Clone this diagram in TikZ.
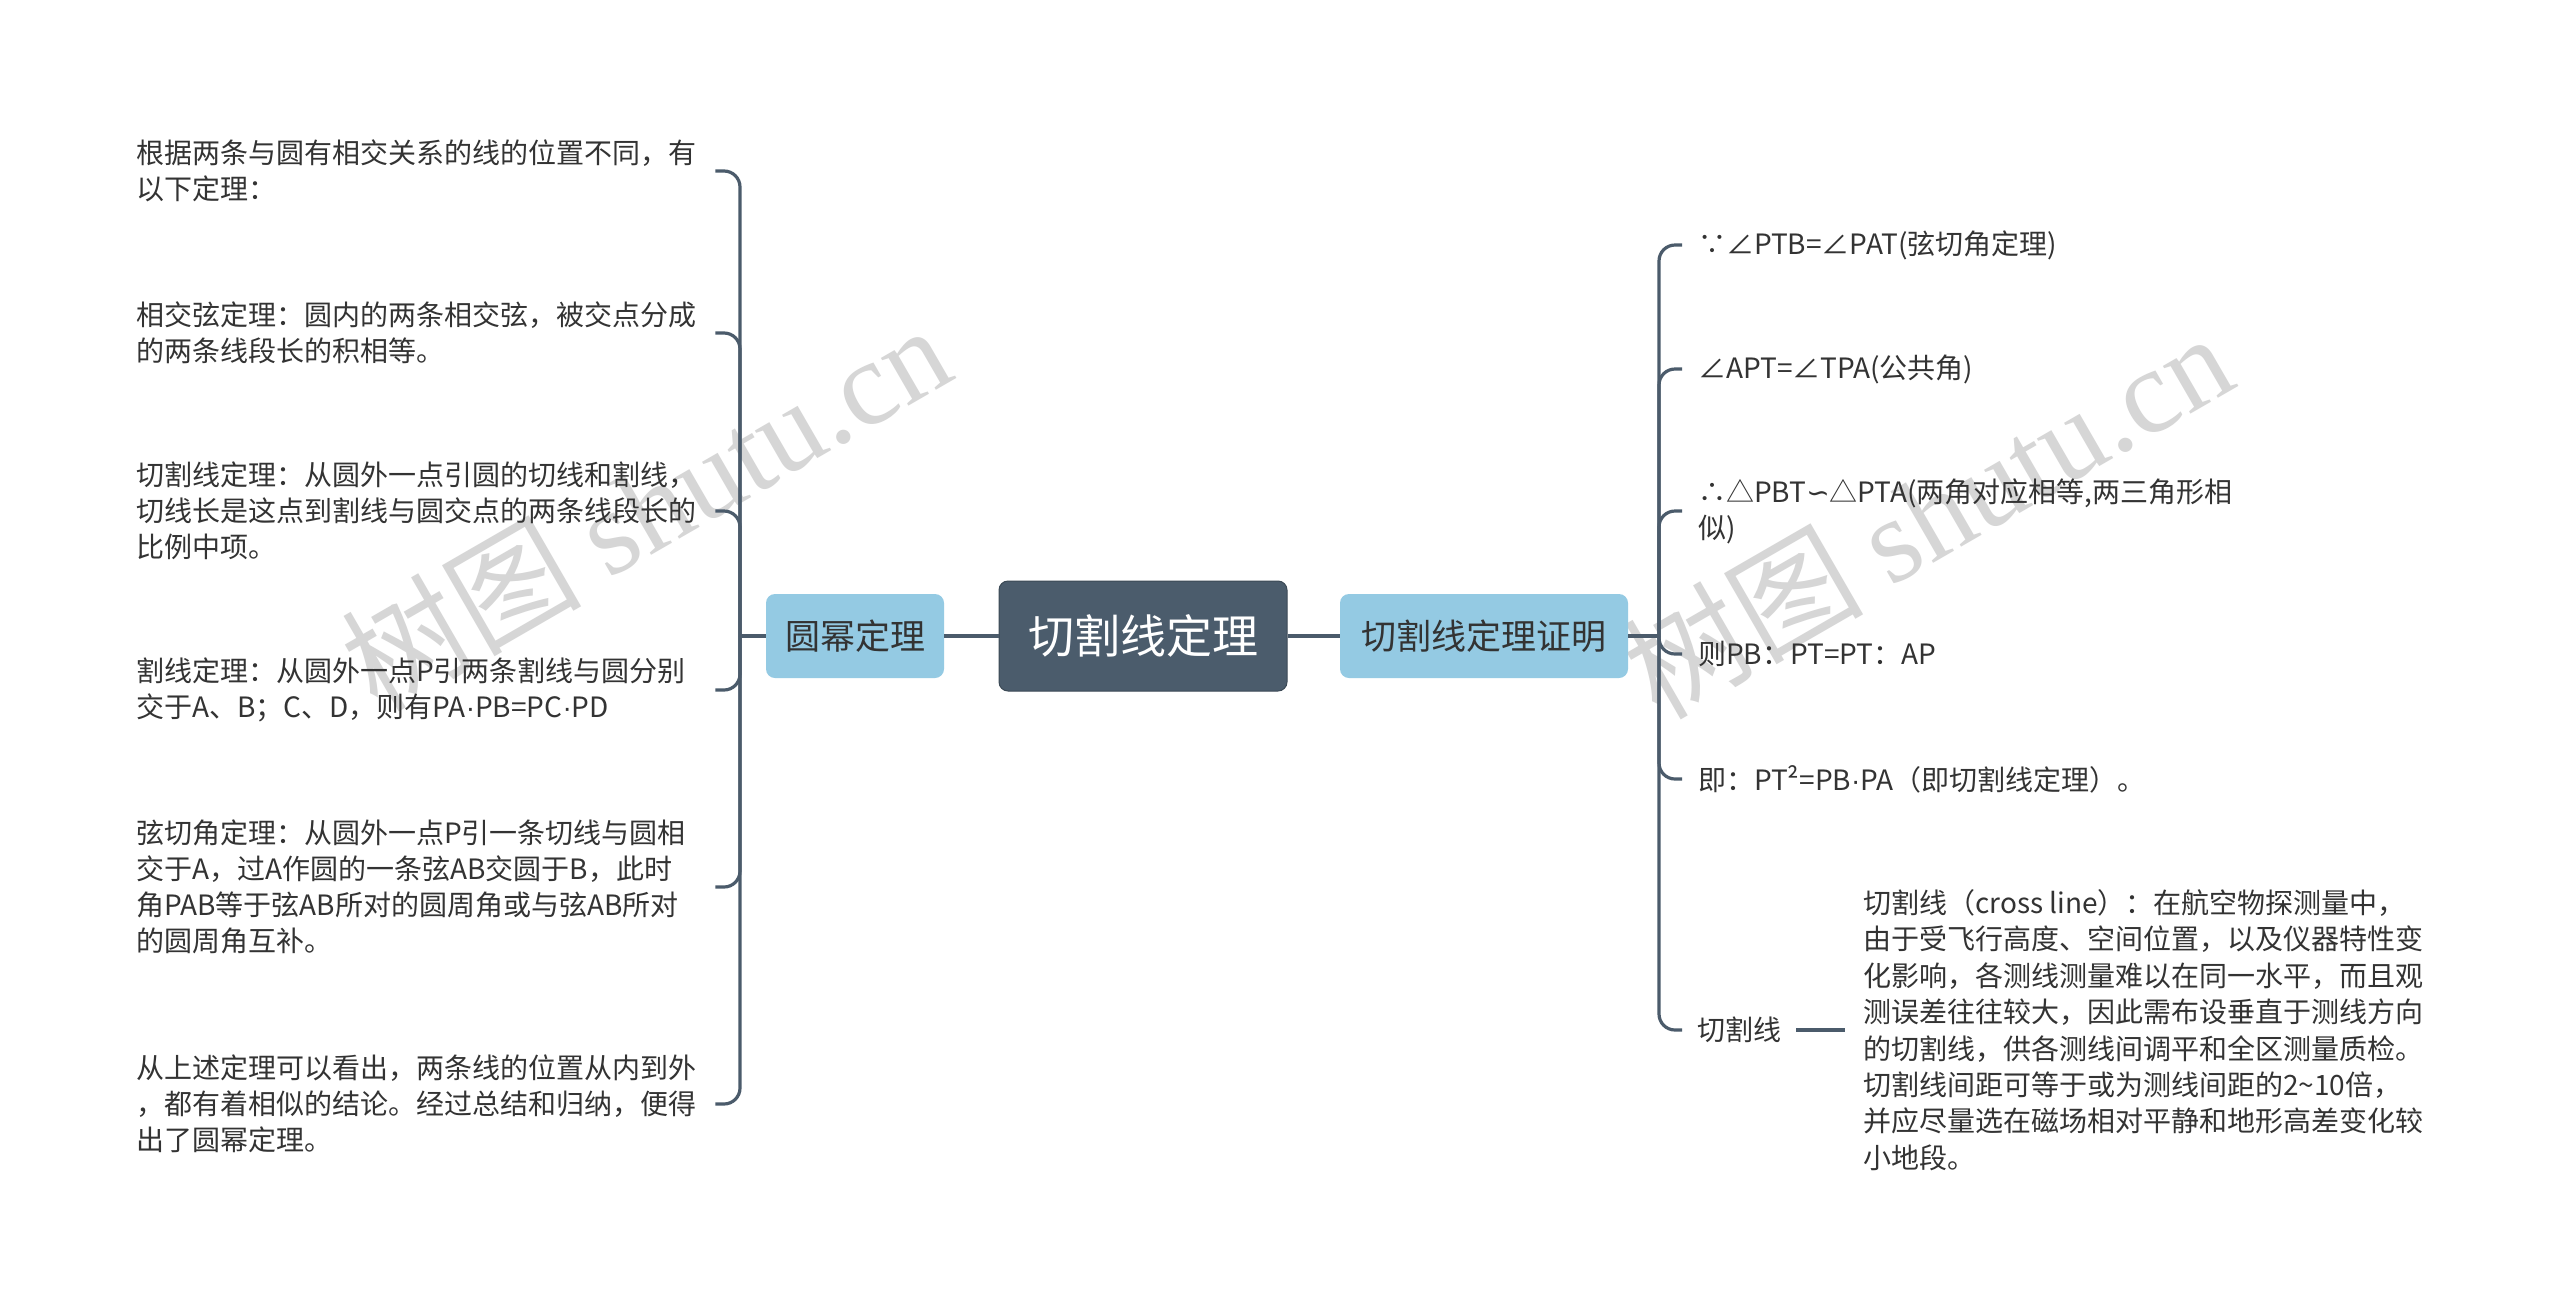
\documentclass[tikz,border=0pt]{standalone}
\usepackage{fontspec}
\setmainfont{Noto Sans CJK SC}
\newfontfamily\wmserif{Liberation Serif}
\newfontfamily\latsans{Liberation Sans}
\newfontfamily\symfont{DejaVu Sans}
\newcommand{\mdot}{{\latsans ·}}
\definecolor{lineC}{HTML}{4B5B6B}
\definecolor{rootC}{HTML}{4B5C6C}
\definecolor{subC}{HTML}{94CAE3}
\definecolor{txtC}{HTML}{333333}
\definecolor{wmC}{HTML}{D6D6D6}
\begin{document}
\begin{tikzpicture}[x=1pt,y=-1pt,
 conn/.style={draw=lineC, line width=3.2pt},
 br/.style={draw=lineC, line width=3.2pt, rounded corners=16pt},
 root/.style={fill=rootC, draw=rootC!80!black, line width=1pt, rounded corners=9pt, minimum width=288pt, minimum height=110pt, text=white, font=\fontsize{46}{50}\selectfont, inner sep=0pt},
 sub/.style={fill=subC, rounded corners=9pt, minimum height=84pt, text=txtC, font=\fontsize{35}{40}\selectfont, inner sep=0pt},
 ltxt/.style={anchor=west, inner sep=0pt, text width=579pt, align=left, text=txtC, font=\fontsize{28}{36}\selectfont},
 rtxt/.style={anchor=west, inner xsep=16pt, inner ysep=0pt, align=left, text=txtC, font=\fontsize{28}{36}\selectfont},
 wm/.style={rotate=30, text=wmC, font=\fontsize{120}{130}\selectfont, inner sep=0pt},
]
\fill[white] (0,0) rectangle (2560,1310);
\useasboundingbox (0,0) rectangle (2560,1310);

% watermarks
\node[wm] (wm1) at (645,506) {树图 {\wmserif shutu.cn}};
\node[wm] (wm2) at (1927,514) {树图 {\wmserif shutu.cn}};

% main nodes
\node[root] (root) at (1143,636) {切割线定理};
\node[sub, minimum width=178pt] (L) at (855,636) {圆幂定理};
\node[sub, minimum width=288pt] (R) at (1484,636) {切割线定理证明};
\coordinate (LJ) at (740,636);
\coordinate (RJ) at (1659,636);

% left texts
\node[ltxt] (l1) at (136,171) {根据两条与圆有相交关系的线的位置不同，有\\以下定理：};
\node[ltxt] (l2) at (136,333) {相交弦定理：圆内的两条相交弦，被交点分成\\的两条线段长的积相等。};
\node[ltxt] (l3) at (136,511) {切割线定理：从圆外一点引圆的切线和割线，\\切线长是这点到割线与圆交点的两条线段长的\\比例中项。};
\node[ltxt] (l4) at (136,690) {割线定理：从圆外一点P引两条割线与圆分别\\交于A、B；C、D，则有PA\mdot PB=PC\mdot PD};
\node[ltxt] (l5) at (136,887) {弦切角定理：从圆外一点P引一条切线与圆相\\交于A，过A作圆的一条弦AB交圆于B，此时\\角PAB等于弦AB所对的圆周角或与弦AB所对\\的圆周角互补。};
\node[ltxt] (l6) at (136,1104) {从上述定理可以看出，两条线的位置从内到外\\，都有着相似的结论。经过总结和归纳，便得\\出了圆幂定理。};

% right texts
\node[rtxt] (r1) at (1682,245) {∵∠PTB=∠PAT(弦切角定理)};
\node[rtxt] (r2) at (1682,369) {∠APT=∠TPA(公共角)};
\node[rtxt] (r3) at (1682,511) {∴△PBT{\symfont ∽}△PTA(两角对应相等,两三角形相\\似)};
\node[rtxt] (r4) at (1682,654) {则PB：PT=PT：AP};
\node[rtxt] (r5) at (1682,779) {即：PT²=PB\mdot PA（即切割线定理）。};
\node[rtxt, inner xsep=15pt] (r6) at (1682,1030) {切割线};
\node[anchor=west, inner xsep=18pt, inner ysep=0pt, align=left, text=txtC, font=\fontsize{28}{36.4}\selectfont] (r6d) at (1845,1030) {切割线（cross line）：在航空物探测量中，\\由于受飞行高度、空间位置，以及仪器特性变\\化影响，各测线测量难以在同一水平，而且观\\测误差往往较大，因此需布设垂直于测线方向\\的切割线，供各测线间调平和全区测量质检。\\切割线间距可等于或为测线间距的2\textasciitilde 10倍，\\并应尽量选在磁场相对平静和地形高差变化较\\小地段。};

% connectors
\draw[conn] (L.east) -- (root.west);
\draw[conn] (root.east) -- (R.west);
\draw[conn] (L.west) -- (LJ);
\draw[conn] (R.east) -- (RJ);
\foreach \n in {l1,l2,l3,l4,l5,l6} \draw[br] (LJ) |- (\n.east);
\foreach \n in {r1,r2,r3,r4,r5,r6} \draw[br] (RJ) |- (\n.west);
\draw[conn] (r6.east) -- (r6d.west);
\end{tikzpicture}
\end{document}
